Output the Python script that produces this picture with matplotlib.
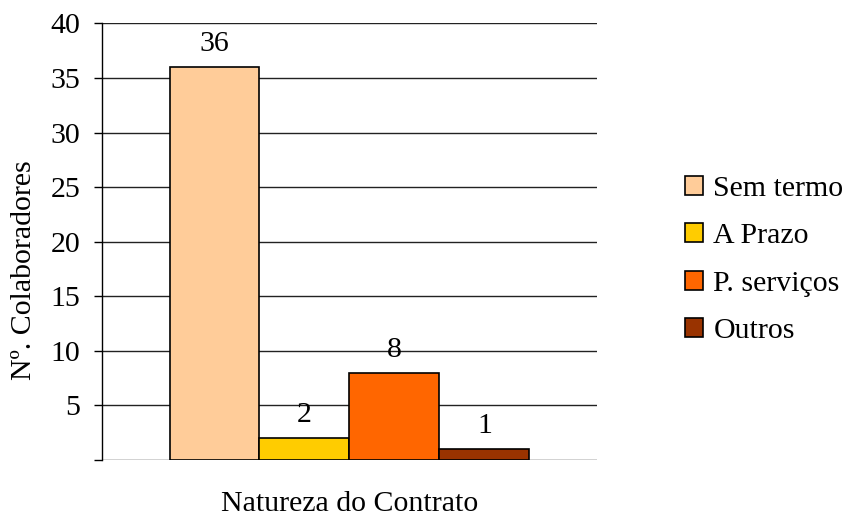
import matplotlib.pyplot as plt

plt.rcParams['font.family'] = ['Liberation Serif', 'DejaVu Serif']

categories = ['Sem termo', 'A Prazo', 'P. serviços', 'Outros']
values = [36, 2, 8, 1]
colors = ['#FFCC99', '#FFCC00', '#FF6600', '#993300']
y_ticks = [5, 10, 15, 20, 25, 30, 35, 40]

FS = 21.5

fig = plt.figure(figsize=(8.46, 5.17), dpi=100)
ax = fig.add_axes([0.1206, 0.1103, 0.585, 0.8443])

width = 1.0
offsets = [-1.5, -0.5, 0.5, 1.5]
for off, cat, val, col in zip(offsets, categories, values, colors):
    ax.bar(off, val, width=width, color=col, edgecolor='black',
           linewidth=1.2, label=cat, zorder=3)
    ax.annotate(str(val), (off, val), xytext=(0, 7), textcoords='offset points',
                ha='center', va='bottom', fontsize=FS)

ax.set_xlim(-2.75, 2.75)
ax.set_ylim(0, 40)
ax.set_yticks([0] + y_ticks)
ax.set_yticklabels([''] + [str(t) for t in y_ticks])
ax.yaxis.grid(True, color='#222222', linewidth=1.0, zorder=0)
ax.set_xticks([])
ax.tick_params(axis='y', labelsize=FS, length=5.5, width=1, pad=10)

for side in ['top', 'right', 'bottom']:
    ax.spines[side].set_visible(False)
ax.spines['left'].set_linewidth(1.0)

ax.set_ylabel('Nº. Colaboradores', fontsize=FS)
ax.yaxis.set_label_coords(-0.132, 0.435)
ax.set_xlabel('Natureza do Contrato', fontsize=FS, labelpad=22)

ax.legend(loc='center left', bbox_to_anchor=(1.178, 0.458), frameon=False,
          fontsize=FS, handlelength=0.6, handleheight=0.6, handletextpad=0.35,
          labelspacing=0.72, borderpad=0, borderaxespad=0)

fig.savefig('out.png', dpi=100)
